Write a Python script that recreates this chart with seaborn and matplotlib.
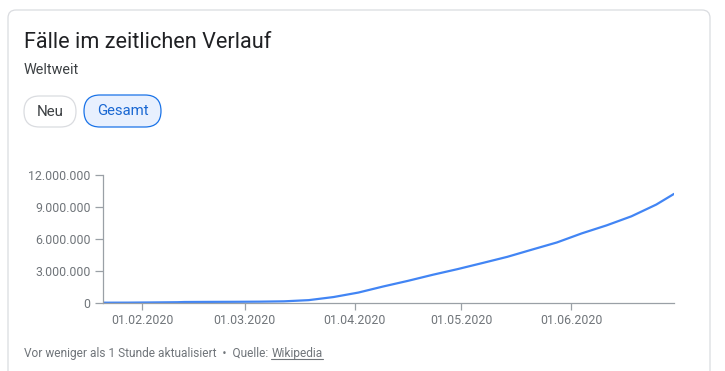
import matplotlib
matplotlib.use("Agg")
import matplotlib.pyplot as plt
import matplotlib.dates as mdates
from matplotlib.ticker import FuncFormatter, FixedLocator
from matplotlib.patches import FancyBboxPatch
from matplotlib.lines import Line2D
import pandas as pd
import seaborn as sns

# ---- data ----
dates = ["2020-01-21", "2020-01-28", "2020-02-04", "2020-02-11", "2020-02-13",
         "2020-02-20", "2020-02-27", "2020-03-05", "2020-03-12", "2020-03-19",
         "2020-03-26", "2020-04-02", "2020-04-09", "2020-04-16", "2020-04-23",
         "2020-04-30", "2020-05-07", "2020-05-14", "2020-05-21", "2020-05-28",
         "2020-06-04", "2020-06-11", "2020-06-18", "2020-06-25", "2020-06-30"]
cases = [300, 6000, 24000, 45000, 65000,
         76000, 83000, 97000, 128000, 240000,
         530000, 950000, 1520000, 2050000, 2620000,
         3150000, 3720000, 4300000, 4980000, 5650000,
         6500000, 7250000, 8100000, 9200000, 10200000]
y_ticks = [0, 3000000, 6000000, 9000000, 12000000]
x_ticks = ["2020-02-01", "2020-03-01", "2020-04-01", "2020-05-01", "2020-06-01"]

title = "Fälle im zeitlichen Verlauf"
subtitle = "Weltweit"
buttons = ["Neu", "Gesamt"]
footer = "Vor weniger als 1 Stunde aktualisiert  \u2022  Quelle: "
source = "Wikipedia"

df = pd.DataFrame({"date": pd.to_datetime(dates), "cases": cases})

sns.set_style("white")
plt.rcParams["font.family"] = ["Roboto", "DejaVu Sans"]

W, H = 725, 371
fig = plt.figure(figsize=(W / 100, H / 100), dpi=100)
fig.patch.set_facecolor("white")

# card
card = FancyBboxPatch((8, -30), 702, 391, boxstyle="round,pad=0,rounding_size=8",
                      transform=None, facecolor="none", edgecolor="#dadce0",
                      linewidth=0.9, zorder=0)
fig.patches.append(card)

# title texts
fig.text(24 / W, 323 / H, title, fontsize=15.6, color="#202124", va="baseline", ha="left")
fig.text(24 / W, 297 / H, subtitle, fontsize=10.4, color="#3c4043", va="baseline", ha="left")

# buttons
neu = FancyBboxPatch((24, 244), 52, 31, boxstyle="round,pad=0,rounding_size=15.5",
                     transform=None, facecolor="white", edgecolor="#dadce0", linewidth=0.9)
ges = FancyBboxPatch((84, 244), 77, 32, boxstyle="round,pad=0,rounding_size=16",
                     transform=None, facecolor="#e8f0fe", edgecolor="#1a73e8", linewidth=0.9)
fig.patches.extend([neu, ges])
fig.text(50 / W, 259.5 / H, buttons[0], fontsize=10.9, color="#3c4043", ha="center", va="center")
fig.text(122.5 / W, 260 / H, buttons[1], fontsize=10.7, color="#1967d2", ha="center", va="center")

# axes
ax = fig.add_axes([103 / W, 68.3 / H, 571 / W, 128 / H])
ax.set_facecolor("none")
sns.lineplot(data=df, x="date", y="cases", ax=ax, color="#4285f4", linewidth=1.6)
ax.set_xlim(pd.Timestamp("2020-01-21"), pd.Timestamp("2020-06-30"))
ax.set_ylim(0, 12000000)
ax.yaxis.set_major_locator(FixedLocator(y_ticks))
ax.yaxis.set_major_formatter(FuncFormatter(lambda v, p: f"{int(v):,}".replace(",", ".")))
ax.xaxis.set_major_locator(FixedLocator([mdates.date2num(pd.Timestamp(d)) for d in x_ticks]))
ax.xaxis.set_major_formatter(mdates.DateFormatter("%d.%m.%Y"))
ax.set_xlabel("")
ax.set_ylabel("")
for s in ["top", "right"]:
    ax.spines[s].set_visible(False)
for s in ["left", "bottom"]:
    ax.spines[s].set_color("#9aa0a6")
    ax.spines[s].set_linewidth(0.9)
ax.tick_params(axis="y", length=6, width=0.9, color="#9aa0a6", pad=3,
               labelsize=8.9, labelcolor="#70757a", left=True)
ax.tick_params(axis="x", length=5, width=0.9, color="#9aa0a6", pad=3,
               labelsize=8.9, labelcolor="#70757a", bottom=True)
ax.grid(False)

# footer
t1 = fig.text(24 / W, 14.3 / H, footer, fontsize=8.6, color="#70757a", ha="left", va="baseline")
fig.canvas.draw()
r = fig.canvas.get_renderer()
bb = t1.get_window_extent(r)
t2 = fig.text(bb.x1 / W, 14.3 / H, source, fontsize=8.6, color="#70757a", ha="left", va="baseline")
bb2 = t2.get_window_extent(r)
fig.lines.append(Line2D([bb2.x0, bb2.x1], [12.3, 12.3], transform=None,
                        color="#70757a", linewidth=0.8))

fig.savefig("out.png", dpi=100)
